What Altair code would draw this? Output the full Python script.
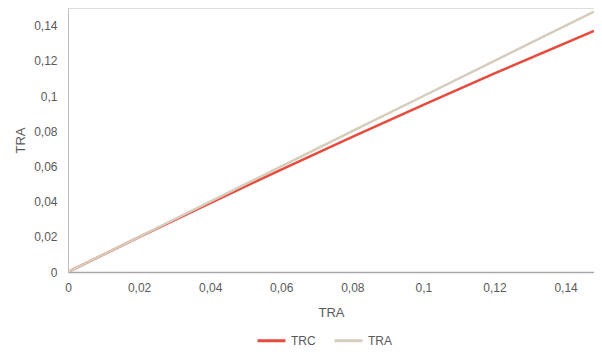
import altair as alt
import pandas as pd

x_vals = [0, 0.02, 0.04, 0.06, 0.08, 0.10, 0.12, 0.148]
trc_vals = [0, 0.0198, 0.0392, 0.0582, 0.0768, 0.0950, 0.1128, 0.137]
tra_vals = [0, 0.02, 0.04, 0.06, 0.08, 0.10, 0.12, 0.148]
series = ["TRC", "TRA"]
colors = ["#e84a3b", "#d6ccbc"]
ticks = [0, 0.02, 0.04, 0.06, 0.08, 0.10, 0.12, 0.14]

df = pd.DataFrame(
    [{"x": x, "y": y, "s": "TRC", "o": i} for i, (x, y) in enumerate(zip(x_vals, trc_vals))]
    + [{"x": x, "y": y, "s": "TRA", "o": i} for i, (x, y) in enumerate(zip(x_vals, tra_vals))]
)

lab = "replace(format(datum.value, ''), '.', ',')"
font = "Liberation Sans"

xenc = alt.X(
    "x:Q",
    scale=alt.Scale(domain=[0, 0.148], nice=False, zero=True),
    axis=alt.Axis(
        title="TRA", values=ticks, labelExpr=lab, grid=False, ticks=False,
        domainColor="#a6a6a6", domainWidth=1.5, labelColor="#595959",
        labelFontSize=12, labelPadding=10, labelFlush=False, titleColor="#595959",
        titleFontSize=13, titleFontWeight="normal", titlePadding=13, labelFont=font, titleFont=font,
    ),
)
yenc = alt.Y(
    "y:Q",
    scale=alt.Scale(domain=[0, 0.15], nice=False),
    axis=alt.Axis(
        title="TRA", values=ticks, labelExpr=lab, grid=False, ticks=False,
        domainColor="#bfbfbf", domainWidth=1, labelColor="#595959",
        labelFontSize=12, labelPadding=11, labelFlush=False, titleColor="#595959",
        titleFontSize=13, titleFontWeight="normal", titlePadding=6, labelFont=font, titleFont=font,
    ),
)
color = alt.Color(
    "s:N",
    scale=alt.Scale(domain=series, range=colors),
    legend=alt.Legend(
        title=None, orient="none", legendX=188, legendY=317, direction="horizontal",
        symbolType="stroke", symbolSize=784, symbolStrokeWidth=3, labelFontSize=12,
        labelColor="#595959", labelFont=font, columnPadding=12, labelOffset=4,
    ),
)

base = alt.Chart(df).mark_line(strokeWidth=2.5, clip=True).encode(
    x=xenc, y=yenc, color=color, order="o:Q"
)
trc = base.transform_filter(alt.datum.s == "TRC")
tra = base.transform_filter(alt.datum.s == "TRA")

chart = (
    alt.layer(trc, tra)
    .properties(
        width=526, height=264,
        autosize=alt.AutoSizeParams(type="none"),
        padding={"left": 60, "top": 0, "right": 0, "bottom": 75},
    )
    .configure_view(stroke=None)
    .configure(background="white")
)

chart.save("out.html", embed_options={"renderer": "svg", "actions": False})
